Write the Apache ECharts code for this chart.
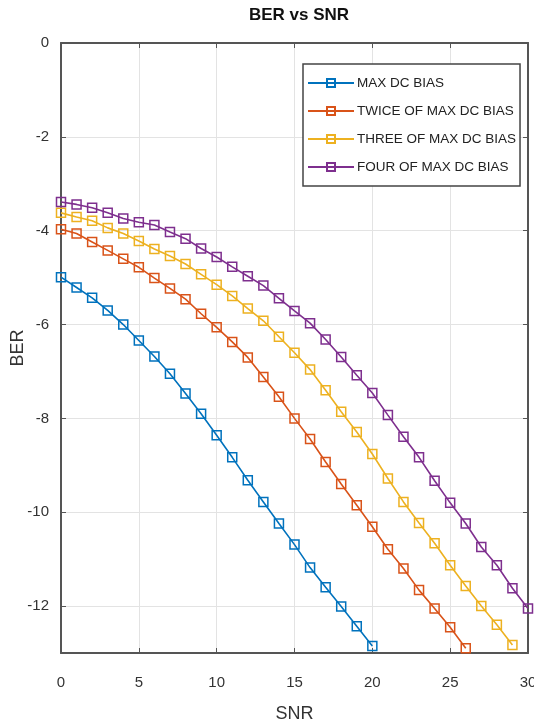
<!DOCTYPE html>
<html>
<head>
<meta charset="utf-8">
<script src="https://cdn.jsdelivr.net/npm/echarts@6/dist/echarts.min.js"></script>
<style>
html,body{margin:0;padding:0;background:#fff;}
#chart{width:534px;height:728px;}
</style>
</head>
<body>
<div id="chart"></div>
<script>
var seriesNames = ['MAX DC BIAS', 'TWICE OF MAX DC BIAS', 'THREE OF MAX DC BIAS', 'FOUR OF MAX DC BIAS'];
var snrMax = [0,1,2,3,4,5,6,7,8,9,10,11,12,13,14,15,16,17,18,19,20];
var berMax = [-4.99,-5.21,-5.43,-5.70,-6.00,-6.34,-6.68,-7.05,-7.47,-7.90,-8.36,-8.83,-9.32,-9.78,-10.24,-10.69,-11.18,-11.60,-12.01,-12.43,-12.85];
var snrTwice = [0,1,2,3,4,5,6,7,8,9,10,11,12,13,14,15,16,17,18,19,20,21,22,23,24,25,26];
var berTwice = [-3.97,-4.06,-4.24,-4.42,-4.60,-4.78,-5.01,-5.23,-5.46,-5.77,-6.06,-6.37,-6.70,-7.12,-7.54,-8.00,-8.44,-8.93,-9.40,-9.85,-10.31,-10.79,-11.20,-11.66,-12.05,-12.45,-12.90];
var snrThree = [0,1,2,3,4,5,6,7,8,9,10,11,12,13,14,15,16,17,18,19,20,21,22,23,24,25,26,27,28,29];
var berThree = [-3.62,-3.71,-3.79,-3.94,-4.06,-4.22,-4.39,-4.54,-4.71,-4.93,-5.15,-5.39,-5.66,-5.92,-6.26,-6.60,-6.96,-7.40,-7.86,-8.29,-8.76,-9.28,-9.78,-10.23,-10.66,-11.13,-11.57,-12.00,-12.40,-12.83];
var snrFour = [0,1,2,3,4,5,6,7,8,9,10,11,12,13,14,15,16,17,18,19,20,21,22,23,24,25,26,27,28,29,30];
var berFour = [-3.39,-3.44,-3.51,-3.62,-3.74,-3.82,-3.88,-4.03,-4.17,-4.38,-4.56,-4.77,-4.97,-5.17,-5.44,-5.71,-5.97,-6.32,-6.69,-7.08,-7.46,-7.93,-8.39,-8.83,-9.33,-9.80,-10.24,-10.74,-11.13,-11.62,-12.05];
var yTicks = [0,-2,-4,-6,-8,-10,-12];
var xTicks = [0,5,10,15,20,25,30];

var colors = ['#0072BD', '#D95319', '#EDB120', '#7E2F8E'];
var xs = [snrMax, snrTwice, snrThree, snrFour];
var ys = [berMax, berTwice, berThree, berFour];

var font = '"Liberation Sans Narrow", "Liberation Sans", Arial, sans-serif';

function pairs(a, b) { return a.map(function (v, i) { return [v, b[i]]; }); }

var series = seriesNames.map(function (n, i) {
  return {
    name: n,
    type: 'line',
    xAxisIndex: 0,
    yAxisIndex: 0,
    data: pairs(xs[i], ys[i]),
    symbol: 'rect',
    symbolSize: 9,
    showAllSymbol: true,
    color: colors[i],
    lineStyle: { color: colors[i], width: 1.6 },
    itemStyle: { color: 'rgba(255,255,255,0)', borderColor: colors[i], borderWidth: 1.5 },
    emphasis: { disabled: true },
    animation: false
  };
});

var chart = echarts.init(document.getElementById('chart'));
chart.setOption({
  backgroundColor: '#fff',
  animation: false,
  title: {
    text: 'BER vs SNR',
    left: 294, top: 2, textAlign: 'center',
    textStyle: { fontFamily: font, fontSize: 17, fontWeight: 'bold', color: '#111' }
  },
  grid: { left: 61, right: 6, top: 43, bottom: 75, outerBoundsMode: 'none', containLabel: false },
  legend: {
    orient: 'vertical',
    left: 303, top: 64,
    align: 'left',
    itemWidth: 46, itemHeight: 10,
    itemGap: 14,
    padding: [12, 4, 12, 4],
    borderColor: '#444', borderWidth: 1.5,
    backgroundColor: '#fff',
    textStyle: { fontFamily: font, fontSize: 13.5, color: '#222', padding: [0,0,0,-2] },
    data: seriesNames
  },
  xAxis: [{
    type: 'value', min: 0, max: 30,
    name: 'SNR', nameLocation: 'middle', nameGap: 52, nameMoveOverlap: false,
    nameTextStyle: { fontFamily: font, fontSize: 18, color: '#333' },
    axisLine: { show: true, onZero: false, lineStyle: { color: '#555', width: 2 } },
    axisTick: { show: true, inside: true, length: 5, customValues: xTicks, lineStyle: { color: '#555' } },
    axisLabel: { customValues: xTicks, margin: 22, fontFamily: font, fontSize: 15, color: '#333' },
    splitLine: { show: true, lineStyle: { color: '#e3e3e3', width: 1 } }
  }, {
    type: 'value', min: 0, max: 30, position: 'top',
    axisLine: { show: true, onZero: false, lineStyle: { color: '#555', width: 2 } },
    axisTick: { show: true, inside: true, length: 5, customValues: xTicks, lineStyle: { color: '#555' } },
    axisLabel: { show: false },
    splitLine: { show: false }
  }],
  yAxis: [{
    type: 'value', min: -13, max: 0,
    name: 'BER', nameLocation: 'middle', nameGap: 34, nameMoveOverlap: false,
    nameTextStyle: { fontFamily: font, fontSize: 18, color: '#333' },
    axisLine: { show: true, onZero: false, lineStyle: { color: '#555', width: 2 } },
    axisTick: { show: true, inside: true, length: 5, customValues: yTicks, lineStyle: { color: '#555' } },
    axisLabel: { customValues: yTicks, margin: 12, fontFamily: font, fontSize: 15, color: '#333' },
    splitLine: { show: true, lineStyle: { color: '#e3e3e3', width: 1 } }
  }, {
    type: 'value', min: -13, max: 0, position: 'right',
    axisLine: { show: true, onZero: false, lineStyle: { color: '#555', width: 2 } },
    axisTick: { show: true, inside: true, length: 5, customValues: yTicks, lineStyle: { color: '#555' } },
    axisLabel: { show: false },
    splitLine: { show: false }
  }],
  series: series
});
</script>
</body>
</html>
